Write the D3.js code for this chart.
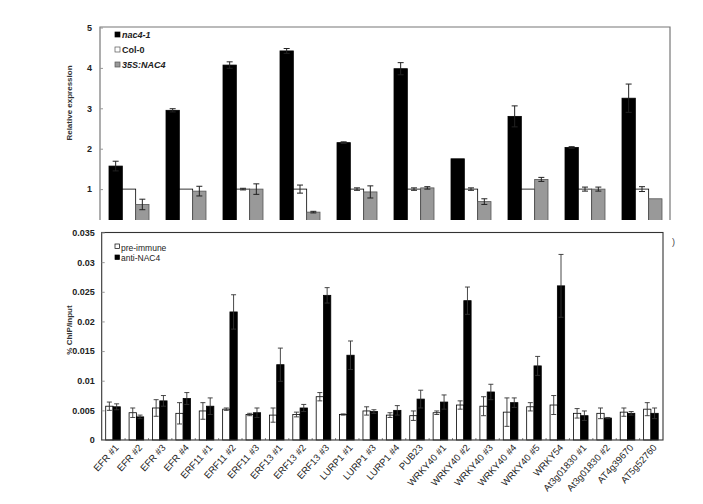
<!DOCTYPE html>
<html lang="en">
<head>
  <meta charset="UTF-8">
  <title>nac4 expression and ChIP</title>
  <script src="https://d3js.org/d3.v7.min.js"></script>
  <style>
    body { margin: 0; background: white; }
    text { font-family: "Liberation Sans", Arial, sans-serif; }
    .frame { fill: none; }
    .tick line { stroke: #999; }
    .domain { display: none; }
  </style>
</head>
<body>
<svg id="chart" width="703" height="504"></svg>
<script>
  // top panel: relative expression
  const genes = ["EFR", "ERF11", "ERF13", "LURP1", "PUB23", "WRKY40", "WRKY54", "At3g01830", "AT4g39670", "AT5g52760"];
  const exprSeries = ["nac4-1", "Col-0", "35S:NAC4"];
  const nac4 = [1.57, 2.95, 4.07, 4.42, 2.15, 3.98, 1.75, 2.80, 2.03, 3.25];
  const nac4Err = [0.12, 0.04, 0.08, 0.06, 0.02, 0.15, 0.0, 0.26, 0.02, 0.35];
  const col0 = [1, 1, 1, 1, 1, 1, 1, 1, 1, 1];
  const col0Err = [0.0, 0.0, 0.02, 0.1, 0.03, 0.03, 0.03, 0.0, 0.05, 0.06];
  const oxNac4 = [0.62, 0.95, 1.0, 0.43, 0.93, 1.03, 0.69, 1.24, 1.0, 0.76];
  const oxNac4Err = [0.13, 0.12, 0.13, 0.02, 0.15, 0.03, 0.07, 0.05, 0.05, 0.0];
  const exprTicks = [1, 2, 3, 4, 5];

  // bottom panel: ChIP
  const sites = ["EFR #1", "EFR #2", "EFR #3", "EFR #4", "ERF11 #1", "ERF11 #2", "ERF11 #3", "ERF13 #1", "ERF13 #2", "ERF13 #3",
    "LURP1 #1", "LURP1 #3", "LURP1 #4", "PUB23", "WRKY40 #1", "WRKY40 #2", "WRKY40 #3", "WRKY40 #4", "WRKY40 #5", "WRKY54",
    "At3g01830 #1", "At3g01830 #2", "AT4g39670", "AT5g52760"];
  const chipSeries = ["pre-immune", "anti-NAC4"];
  const preImmune = [0.0057, 0.0046, 0.0054, 0.0045, 0.0049, 0.0052, 0.0043, 0.0042, 0.0043, 0.0073,
    0.0043, 0.0049, 0.0042, 0.0041, 0.0046, 0.0059, 0.0057, 0.0047, 0.0056, 0.0059,
    0.0045, 0.0045, 0.0047, 0.0052];
  const preImmuneErr = [0.0007, 0.0008, 0.0014, 0.0018, 0.0014, 0.0002, 0.0002, 0.0012, 0.0004, 0.0007,
    0.0001, 0.0007, 0.0004, 0.0008, 0.0003, 0.0007, 0.0016, 0.0024, 0.0007, 0.0016,
    0.0008, 0.0009, 0.0007, 0.0011];
  const antiNac4 = [0.0056, 0.0039, 0.0066, 0.0070, 0.0057, 0.0216, 0.0046, 0.0127, 0.0054, 0.0244,
    0.0143, 0.0048, 0.0050, 0.0069, 0.0064, 0.0235, 0.0081, 0.0063, 0.0125, 0.0260,
    0.0041, 0.0037, 0.0045, 0.0045];
  const antiNac4Err = [0.0005, 0.0003, 0.0009, 0.0010, 0.0014, 0.0029, 0.0008, 0.0028, 0.0006, 0.0013,
    0.0024, 0.0003, 0.0008, 0.0015, 0.0012, 0.0023, 0.0013, 0.0008, 0.0016, 0.0053,
    0.0008, 0.0001, 0.0003, 0.0009];
  const chipTicks = [0, 0.005, 0.01, 0.015, 0.02, 0.025, 0.03, 0.035];

  const svg = d3.select("#chart");

  // ---------- top panel ----------
  const topBox = { left: 100, right: 670, top: 27, bottom: 220 };
  const yTop = d3.scaleLinear().domain([0, 5]).range([229.5, 27.5]);
  const xTop = d3.scaleBand().domain(genes).range([topBox.left, topBox.right]);
  const xTopInner = d3.scaleBand().domain(exprSeries).range([9, 49]);
  const exprColors = { "nac4-1": "#000", "Col-0": "#fff", "35S:NAC4": "#999" };
  const exprVals = { "nac4-1": [nac4, nac4Err], "Col-0": [col0, col0Err], "35S:NAC4": [oxNac4, oxNac4Err] };

  svg.append("clipPath").attr("id", "topClip")
    .append("rect").attr("x", topBox.left).attr("y", 0)
    .attr("width", topBox.right - topBox.left).attr("height", topBox.bottom);

  const gTop = svg.append("g").attr("clip-path", "url(#topClip)");
  exprSeries.forEach(s => {
    const [vals, errs] = exprVals[s];
    const rows = genes.map((g, i) => ({ g, v: vals[i], e: errs[i] }));
    gTop.selectAll(null).data(rows).join("rect")
      .attr("x", d => xTop(d.g) + xTopInner(s))
      .attr("y", d => yTop(d.v))
      .attr("width", xTopInner.bandwidth())
      .attr("height", d => yTop(0) - yTop(d.v))
      .attr("fill", exprColors[s])
      .attr("stroke", s === "35S:NAC4" ? "#555" : "#000")
      .attr("stroke-width", 0.8);
    const eb = gTop.selectAll(null).data(rows.filter(d => d.e > 0)).join("g")
      .attr("stroke", "#222").attr("stroke-width", 1);
    const cx = d => xTop(d.g) + xTopInner(s) + xTopInner.bandwidth() / 2;
    eb.append("line").attr("x1", cx).attr("x2", cx)
      .attr("y1", d => yTop(d.v + d.e)).attr("y2", d => yTop(d.v - d.e));
    eb.append("line").attr("x1", d => cx(d) - 3).attr("x2", d => cx(d) + 3)
      .attr("y1", d => yTop(d.v + d.e)).attr("y2", d => yTop(d.v + d.e));
    eb.append("line").attr("x1", d => cx(d) - 3).attr("x2", d => cx(d) + 3)
      .attr("y1", d => yTop(d.v - d.e)).attr("y2", d => yTop(d.v - d.e));
  });

  svg.append("path").attr("class", "frame")
    .attr("d", `M${topBox.left},${topBox.bottom}V${topBox.top}H${topBox.right}V${topBox.bottom}`)
    .attr("stroke", "#777").attr("stroke-width", 1.2);

  svg.append("g").attr("transform", `translate(${topBox.left},0)`)
    .call(d3.axisLeft(yTop).tickValues(exprTicks).tickSizeInner(-3).tickSizeOuter(0).tickPadding(8)
      .tickFormat(d3.format("d")))
    .selectAll("text").attr("font-size", 9).attr("font-weight", "bold").attr("fill", "#222");

  svg.append("text").attr("transform", "translate(72,103) rotate(-90)")
    .attr("text-anchor", "middle").attr("font-size", 8).attr("font-weight", "bold").attr("fill", "#333")
    .text("Relative expression");

  const legTop = svg.append("g").attr("transform", "translate(115,38)");
  exprSeries.forEach((s, i) => {
    legTop.append("rect").attr("x", 0).attr("y", i * 15 - 6).attr("width", 5).attr("height", 5)
      .attr("fill", exprColors[s]).attr("stroke", s === "nac4-1" ? "#000" : "#555").attr("stroke-width", 0.7);
    legTop.append("text").attr("x", 7).attr("y", i * 15).attr("font-size", 9).attr("font-weight", "bold")
      .attr("font-style", s === "Col-0" ? "normal" : "italic").attr("fill", "#222").text(s);
  });

  // stray clipped glyph at right edge
  svg.append("text").attr("x", 672).attr("y", 245).attr("font-size", 9).attr("fill", "#444").text(")");

  // ---------- bottom panel ----------
  const botBox = { left: 101.7, right: 663, top: 232.5, bottom: 440 };
  const yBot = d3.scaleLinear().domain([0, 0.035]).range([botBox.bottom, botBox.top]);
  const xBot = d3.scaleBand().domain(sites).range([botBox.left, botBox.right]);
  const xBotInner = d3.scaleBand().domain(chipSeries).range([4, 18.6]);
  const chipColors = { "pre-immune": "#fff", "anti-NAC4": "#000" };
  const chipVals = { "pre-immune": [preImmune, preImmuneErr], "anti-NAC4": [antiNac4, antiNac4Err] };

  chipSeries.forEach(s => {
    const [vals, errs] = chipVals[s];
    const rows = sites.map((g, i) => ({ g, v: vals[i], e: errs[i] }));
    svg.selectAll(null).data(rows).join("rect")
      .attr("x", d => xBot(d.g) + xBotInner(s))
      .attr("y", d => yBot(d.v))
      .attr("width", xBotInner.bandwidth())
      .attr("height", d => yBot(0) - yBot(d.v))
      .attr("fill", chipColors[s]).attr("stroke", "#000").attr("stroke-width", 0.8);
    const cx = d => xBot(d.g) + xBotInner(s) + xBotInner.bandwidth() / 2;
    const eb = svg.selectAll(null).data(rows).join("g").attr("stroke", "#333").attr("stroke-width", 0.9);
    eb.append("line").attr("x1", cx).attr("x2", cx)
      .attr("y1", d => yBot(d.v + d.e)).attr("y2", d => yBot(d.v - d.e));
    eb.append("line").attr("x1", d => cx(d) - 2.5).attr("x2", d => cx(d) + 2.5)
      .attr("y1", d => yBot(d.v + d.e)).attr("y2", d => yBot(d.v + d.e));
    eb.append("line").attr("x1", d => cx(d) - 2.5).attr("x2", d => cx(d) + 2.5)
      .attr("y1", d => yBot(d.v - d.e)).attr("y2", d => yBot(d.v - d.e));
  });

  // small category ticks along the base
  svg.append("g").selectAll("line").data(sites.slice(1)).join("line")
    .attr("x1", d => xBot(d)).attr("x2", d => xBot(d))
    .attr("y1", botBox.bottom).attr("y2", botBox.bottom - 2)
    .attr("stroke", "#888").attr("stroke-width", 1);

  svg.append("rect").attr("class", "frame")
    .attr("x", botBox.left).attr("y", botBox.top)
    .attr("width", botBox.right - botBox.left).attr("height", botBox.bottom - botBox.top)
    .attr("stroke", "#333").attr("stroke-width", 1.1);

  svg.append("g").attr("transform", `translate(${botBox.left},0)`)
    .call(d3.axisLeft(yBot).tickValues(chipTicks).tickSizeInner(-3).tickSizeOuter(0).tickPadding(7)
      .tickFormat(d => d === 0 ? "0" : String(+d.toFixed(3))))
    .selectAll("text").attr("font-size", 9).attr("font-weight", "bold").attr("fill", "#222");

  svg.append("text").attr("transform", "translate(72,330) rotate(-90)")
    .attr("text-anchor", "middle").attr("font-size", 8).attr("font-weight", "bold").attr("fill", "#333")
    .text("% ChIP/input");

  svg.append("g").selectAll("text").data(sites).join("text")
    .attr("transform", d => `translate(${xBot(d) + xBot.bandwidth() / 2 + 6},448) rotate(-48)`)
    .attr("text-anchor", "end").attr("font-size", 9.5).attr("fill", "#222")
    .text(d => d);

  const legBot = svg.append("g").attr("transform", "translate(115,251)");
  chipSeries.forEach((s, i) => {
    legBot.append("rect").attr("x", 0).attr("y", i * 10 - (i === 0 ? 7 : 6)).attr("width", 4.5).attr("height", 4.5)
      .attr("fill", chipColors[s]).attr("stroke", "#000").attr("stroke-width", 0.7);
    legBot.append("text").attr("x", 6).attr("y", i * 10).attr("font-size", 8.5)
      .attr("fill", "#222").text(s);
  });
</script>
</body>
</html>
